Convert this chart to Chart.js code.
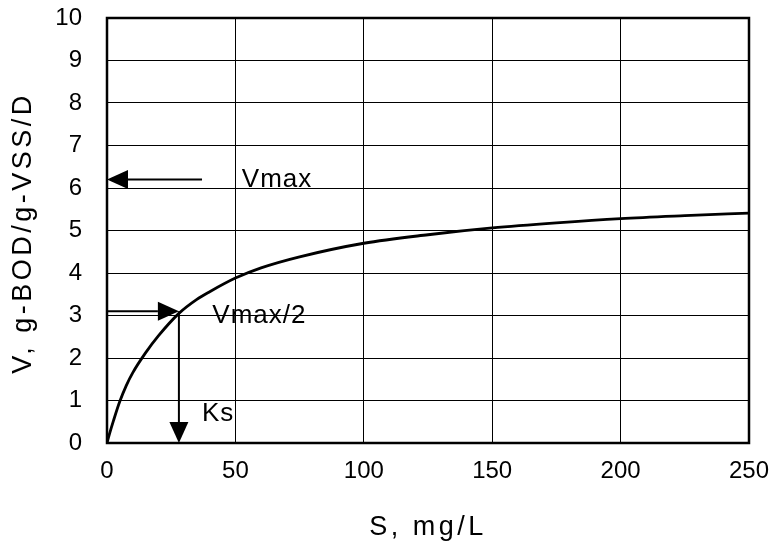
<!DOCTYPE html>
<html>
<head>
<meta charset="utf-8">
<script src="https://cdn.jsdelivr.net/npm/chart.js@4/dist/chart.umd.min.js"></script>
<style>
  html, body { margin: 0; padding: 0; background: #fff; }
  #wrap { width: 776px; height: 547px; }
</style>
</head>
<body>
<div id="wrap"><canvas id="mm"></canvas></div>
<script>
// curva (S em mg/L, V em g-BOD/g-VSS/D)
const sVals = [0, 1, 2.5, 5, 7.5, 10, 15, 20, 28, 35, 40, 50, 60, 75, 100, 125, 150, 175, 200, 225, 250];
const vVals = [0, 0.22, 0.52, 0.98, 1.35, 1.65, 2.12, 2.52, 3.05, 3.38, 3.56, 3.88, 4.12, 4.38, 4.7, 4.9, 5.06, 5.18, 5.28, 5.35, 5.41];

const xTicks = [0, 50, 100, 150, 200, 250];
const yTicks = [0, 1, 2, 3, 4, 5, 6, 7, 8, 9, 10];
const xTitle = "S, mg/L";
const yTitle = "V, g-BOD/g-VSS/D";

// setas e rótulos (em unidades dos eixos)
const arrows = [
  { from: [37, 6.2], to: [0, 6.2] },     // Vmax
  { from: [0, 3.1], to: [28, 3.1] },     // Vmax/2
  { from: [28, 3.1], to: [28, 0] }       // Ks
];
const labels = [
  { text: "Vmax",   at: [52.5, 6.2] },
  { text: "Vmax/2", at: [41, 3.0] },
  { text: "Ks",     at: [37, 0.68] }
];

const FONT = "'Liberation Sans', Arial, sans-serif";

const decor = {
  id: "decor",
  afterDatasetsDraw(chart) {
    const { ctx, chartArea: a, scales: { x, y } } = chart;
    ctx.save();
    // moldura
    ctx.strokeStyle = "#000";
    ctx.lineWidth = 2.5;
    ctx.strokeRect(a.left, a.top, a.right - a.left, a.bottom - a.top);

    // setas
    ctx.lineWidth = 2;
    arrows.forEach(ar => {
      const x0 = x.getPixelForValue(ar.from[0]), y0 = y.getPixelForValue(ar.from[1]);
      const x1 = x.getPixelForValue(ar.to[0]),   y1 = y.getPixelForValue(ar.to[1]);
      const ang = Math.atan2(y1 - y0, x1 - x0);
      const len = 21, half = 9.5;
      const bx = x1 - len * Math.cos(ang), by = y1 - len * Math.sin(ang);
      ctx.beginPath();
      ctx.moveTo(x0, y0);
      ctx.lineTo(bx, by);
      ctx.stroke();
      ctx.beginPath();
      ctx.moveTo(x1, y1);
      ctx.lineTo(bx + half * Math.sin(ang), by - half * Math.cos(ang));
      ctx.lineTo(bx - half * Math.sin(ang), by + half * Math.cos(ang));
      ctx.closePath();
      ctx.fillStyle = "#000";
      ctx.fill();
    });

    // rótulos
    ctx.font = "26px " + FONT;
    ctx.fillStyle = "#000";
    ctx.textAlign = "left";
    ctx.textBaseline = "middle";
    ctx.letterSpacing = "1px";
    labels.forEach(l => {
      ctx.fillText(l.text, x.getPixelForValue(l.at[0]), y.getPixelForValue(l.at[1]));
    });

    // títulos dos eixos (fonte larga, com espaçamento)
    ctx.font = "27px " + FONT;
    ctx.letterSpacing = "3.5px";
    ctx.textAlign = "center";
    ctx.fillText(xTitle, (a.left + a.right) / 2, 528);
    ctx.translate(24, 233);
    ctx.rotate(-Math.PI / 2);
    ctx.fillText(yTitle, 0, 0);
    ctx.restore();
  }
};

new Chart(document.getElementById("mm").getContext("2d"), {
  type: "line",
  data: {
    datasets: [{
      data: sVals.map((s, i) => ({ x: s, y: vVals[i] })),
      borderColor: "#000",
      borderWidth: 2.8,
      pointRadius: 0,
      cubicInterpolationMode: "monotone",
      fill: false
    }]
  },
  options: {
    responsive: true, maintainAspectRatio: false,
    animation: false,
    layout: { padding: { top: 18, right: 27, left: 0, bottom: 0 } },
    plugins: { legend: { display: false }, tooltip: { enabled: false } },
    scales: {
      x: {
        type: "linear", min: 0, max: 250,
        afterBuildTicks: s => { s.ticks = xTicks.map(v => ({ value: v })); },
        afterFit: s => { s.height = 104; s.paddingLeft = 0; s.paddingRight = 0; },
        grid: { color: "#000", lineWidth: 1, drawTicks: false },
        border: { display: false },
        ticks: { color: "#000", padding: 14, font: { family: FONT, size: 24 }, maxRotation: 0 },
        title: { display: false }
      },
      y: {
        type: "linear", min: 0, max: 10,
        afterBuildTicks: s => { s.ticks = yTicks.map(v => ({ value: v })); },
        afterFit: s => { s.width = 107; s.paddingTop = 0; s.paddingBottom = 0; },
        grid: { color: "#000", lineWidth: 1, drawTicks: false },
        border: { display: false },
        ticks: { color: "#000", padding: 25, font: { family: FONT, size: 24 } },
        title: { display: false }
      }
    }
  },
  plugins: [decor]
});
</script>
</body>
</html>
